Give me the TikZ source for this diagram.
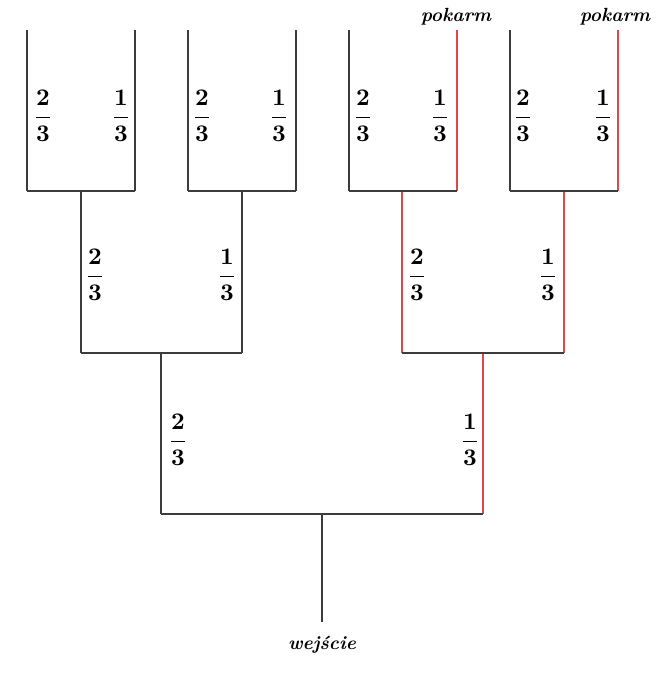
\documentclass[tikz,border=0pt]{standalone}
\usepackage{amsmath, amssymb}
\definecolor{wallgray}{HTML}{3C3C3C}
\definecolor{pathred}{HTML}{E0474C}

\begin{document}
\begin{tikzpicture}[x = 0.42pt, y = -0.42pt]
\tikzstyle{WallStyle} = [draw = wallgray, line width = 0.9pt]
\tikzstyle{PathStyle} = [draw = pathred, line width = 0.9pt]
\tikzstyle{FracStyle} = [inner sep = 0pt, font = \boldmath]
\tikzstyle{TextStyle} = [inner sep = 0pt, font = \footnotesize\bfseries\itshape]
\useasboundingbox (0,0) rectangle (663,675);
% junctions
\coordinate (in) at (322,622);
\coordinate (s) at (322,514);
\coordinate (L) at (161,514);
\coordinate (R) at (483,514);
\coordinate (Lt) at (161,353);
\coordinate (Rt) at (483,353);
\coordinate (LL) at (81,353);
\coordinate (LR) at (242,353);
\coordinate (RL) at (402,353);
\coordinate (RR) at (564,353);
\coordinate (LLt) at (81,191);
\coordinate (LRt) at (242,191);
\coordinate (RLt) at (402,191);
\coordinate (RRt) at (564,191);
\coordinate (LLL) at (27,191);
\coordinate (LLR) at (135,191);
\coordinate (LRL) at (188,191);
\coordinate (LRR) at (296,191);
\coordinate (RLL) at (349,191);
\coordinate (RLR) at (457,191);
\coordinate (RRL) at (510,191);
\coordinate (RRR) at (618,191);
\coordinate (LLLt) at (27,30);
\coordinate (LLRt) at (135,30);
\coordinate (LRLt) at (188,30);
\coordinate (LRRt) at (296,30);
\coordinate (RLLt) at (349,30);
\coordinate (RLRt) at (457,30);
\coordinate (RRLt) at (510,30);
\coordinate (RRRt) at (618,30);
% corridors
\draw[PathStyle] (R) -- (Rt);
\draw[PathStyle] (RL) -- (RLt);
\draw[PathStyle] (RR) -- (RRt);
\draw[PathStyle] (RLR) -- (RLRt);
\draw[PathStyle] (RRR) -- (RRRt);
\draw[WallStyle] (in) -- (s);
\draw[WallStyle] (L) -- (R);
\draw[WallStyle] (L) -- (Lt);
\draw[WallStyle] (LL) -- (LR);
\draw[WallStyle] (RL) -- (RR);
\draw[WallStyle] (LL) -- (LLt);
\draw[WallStyle] (LR) -- (LRt);
\draw[WallStyle] (LLL) -- (LLR);
\draw[WallStyle] (LRL) -- (LRR);
\draw[WallStyle] (RLL) -- (RLR);
\draw[WallStyle] (RRL) -- (RRR);
\draw[WallStyle] (LLL) -- (LLLt);
\draw[WallStyle] (LLR) -- (LLRt);
\draw[WallStyle] (LRL) -- (LRLt);
\draw[WallStyle] (LRR) -- (LRRt);
\draw[WallStyle] (RLL) -- (RLLt);
\draw[WallStyle] (RRL) -- (RRLt);
% probabilities
\node[FracStyle] (fL) at (178,440) {$\dfrac{2}{3}$};
\node[FracStyle] (fR) at (470,440) {$\dfrac{1}{3}$};
\node[FracStyle] (fLL) at (95,275) {$\dfrac{2}{3}$};
\node[FracStyle] (fLR) at (227,275) {$\dfrac{1}{3}$};
\node[FracStyle] (fRL) at (417,275) {$\dfrac{2}{3}$};
\node[FracStyle] (fRR) at (548,275) {$\dfrac{1}{3}$};
\node[FracStyle] (fLLL) at (43,116) {$\dfrac{2}{3}$};
\node[FracStyle] (fLLR) at (121,116) {$\dfrac{1}{3}$};
\node[FracStyle] (fLRL) at (202,116) {$\dfrac{2}{3}$};
\node[FracStyle] (fLRR) at (279,116) {$\dfrac{1}{3}$};
\node[FracStyle] (fRLL) at (363,116) {$\dfrac{2}{3}$};
\node[FracStyle] (fRLR) at (440,116) {$\dfrac{1}{3}$};
\node[FracStyle] (fRRL) at (523,116) {$\dfrac{2}{3}$};
\node[FracStyle] (fRRR) at (603,116) {$\dfrac{1}{3}$};
% ends
\node[TextStyle] (food1) at (456,17) {pokarm};
\node[TextStyle] (food2) at (615,17) {pokarm};
\node[TextStyle] (entry) at (322,645) {wejście};
\end{tikzpicture}
\end{document}
